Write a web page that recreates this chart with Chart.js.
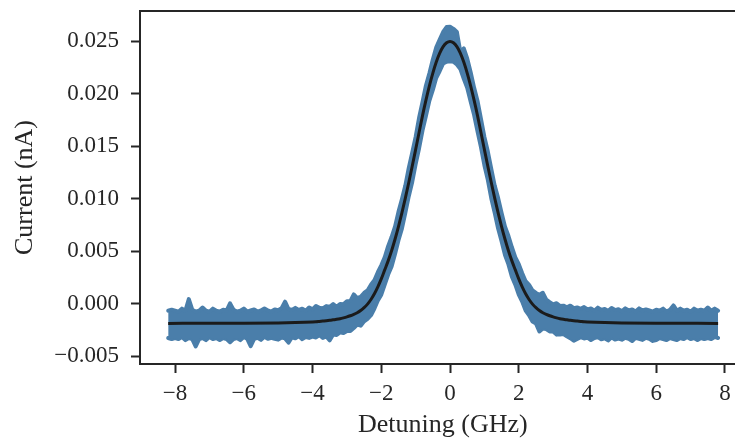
<!DOCTYPE html>
<html lang="en">
<head>
<meta charset="UTF-8">
<title>Detuning scan</title>
<script src="https://cdn.jsdelivr.net/npm/chart.js@4.4.0/dist/chart.umd.min.js"></script>
<style>
  html, body { margin: 0; padding: 0; background: #fff; overflow: hidden; width: 735px; height: 439px; }
  #scan { display: block; }
</style>
</head>
<body>
<canvas id="scan" width="800" height="439"></canvas>
<script>
// measured trace (GHz) with the upper / lower edge of its noise (nA)
var detuning = [
  -8.2,-8.1,-8.0,-7.9,-7.8,-7.7,-7.6,-7.5,-7.4,-7.3,
  -7.2,-7.1,-7.0,-6.9,-6.8,-6.7,-6.6,-6.5,-6.4,-6.3,
  -6.2,-6.1,-6.0,-5.9,-5.8,-5.7,-5.6,-5.5,-5.4,-5.3,
  -5.2,-5.1,-5.0,-4.9,-4.8,-4.7,-4.6,-4.5,-4.4,-4.3,
  -4.2,-4.1,-4.0,-3.9,-3.8,-3.7,-3.6,-3.5,-3.4,-3.3,
  -3.2,-3.1,-3.0,-2.9,-2.8,-2.7,-2.6,-2.5,-2.4,-2.3,
  -2.2,-2.1,-2.0,-1.9,-1.8,-1.7,-1.6,-1.5,-1.4,-1.3,
  -1.2,-1.1,-1.0,-0.9,-0.8,-0.7,-0.6,-0.5,-0.4,-0.3,
  -0.2,-0.1,0.0,0.1,0.2,0.3,0.4,0.5,0.6,0.7,
  0.8,0.9,1.0,1.1,1.2,1.3,1.4,1.5,1.6,1.7,
  1.8,1.9,2.0,2.1,2.2,2.3,2.4,2.5,2.6,2.7,
  2.8,2.9,3.0,3.1,3.2,3.3,3.4,3.5,3.6,3.7,
  3.8,3.9,4.0,4.1,4.2,4.3,4.4,4.5,4.6,4.7,
  4.8,4.9,5.0,5.1,5.2,5.3,5.4,5.5,5.6,5.7,
  5.8,5.9,6.0,6.1,6.2,6.3,6.4,6.5,6.6,6.7,
  6.8,6.9,7.0,7.1,7.2,7.3,7.4,7.5,7.6,7.7,7.8
];
var currentHigh = [
  -0.00067,-0.00057,-0.00067,-0.00077,-0.00047,-0.00067,0.00043,-0.00057,-0.00077,-0.00067,
  -0.00037,-0.00067,-0.00077,-0.00047,-0.00067,-0.00077,-0.00057,-0.00067,0.00003,-0.00057,
  -0.00077,-0.00067,-0.00047,-0.00075,-0.00065,-0.00055,-0.00075,-0.00065,-0.00045,-0.00065,
  -0.00075,-0.00055,-0.00063,-0.00042,0.00019,-0.00051,-0.00060,-0.00040,-0.00059,-0.00048,
  -0.00068,-0.00036,-0.00054,-0.00022,-0.00039,-0.00046,-0.00023,-0.00029,-0.00004,-0.00029,
  -0.00003,-0.00005,0.00024,0.00025,0.00088,0.00054,0.00065,0.00102,0.00126,0.00180,
  0.00224,0.00300,0.00366,0.00442,0.00548,0.00635,0.00734,0.00875,0.00996,0.01126,
  0.01295,0.01440,0.01590,0.01772,0.01923,0.02080,0.02196,0.02328,0.02443,0.02518,
  0.02590,0.02637,0.02640,0.02620,0.02590,0.02400,0.02433,0.02338,0.02206,0.02060,
  0.01933,0.01762,0.01590,0.01450,0.01285,0.01126,0.01006,0.00865,0.00734,0.00645,
  0.00538,0.00442,0.00376,0.00290,0.00214,0.00180,0.00126,0.00102,0.00085,0.00104,
  0.00038,0.00015,-0.00006,0.00005,-0.00023,-0.00019,-0.00034,-0.00019,-0.00043,-0.00036,
  -0.00049,-0.00032,-0.00054,-0.00046,-0.00067,-0.00038,-0.00059,-0.00050,-0.00070,-0.00041,
  -0.00061,-0.00052,-0.00072,-0.00045,-0.00065,-0.00055,-0.00075,-0.00045,-0.00065,-0.00055,
  -0.00065,-0.00075,-0.00057,-0.00067,-0.00047,-0.00077,-0.00057,-0.00017,-0.00067,-0.00047,
  -0.00067,-0.00057,-0.00077,-0.00047,-0.00067,-0.00057,-0.00067,-0.00037,-0.00067,-0.00047,-0.00067
];
var currentLow = [
  -0.00327,-0.00337,-0.00327,-0.00337,-0.00317,-0.00347,-0.00327,-0.00337,-0.00407,-0.00337,
  -0.00327,-0.00347,-0.00317,-0.00337,-0.00327,-0.00347,-0.00327,-0.00337,-0.00367,-0.00337,
  -0.00327,-0.00347,-0.00317,-0.00335,-0.00405,-0.00335,-0.00325,-0.00345,-0.00315,-0.00335,
  -0.00325,-0.00335,-0.00343,-0.00322,-0.00331,-0.00371,-0.00320,-0.00330,-0.00309,-0.00338,
  -0.00318,-0.00326,-0.00314,-0.00322,-0.00299,-0.00326,-0.00313,-0.00349,-0.00294,-0.00299,
  -0.00273,-0.00280,-0.00260,-0.00260,-0.00232,-0.00200,-0.00210,-0.00168,-0.00144,-0.00110,
  -0.00046,0.00030,0.00086,0.00182,0.00278,0.00355,0.00474,0.00605,0.00716,0.00866,
  0.01025,0.01160,0.01330,0.01482,0.01653,0.01790,0.01936,0.02038,0.02153,0.02218,
  0.02290,0.02307,0.02310,0.02307,0.02280,0.02238,0.02143,0.02058,0.01926,0.01800,
  0.01643,0.01492,0.01320,0.01180,0.01005,0.00866,0.00716,0.00595,0.00464,0.00375,
  0.00258,0.00182,0.00086,0.00020,-0.00066,-0.00110,-0.00170,-0.00188,-0.00265,-0.00236,
  -0.00242,-0.00265,-0.00266,-0.00295,-0.00293,-0.00289,-0.00310,-0.00329,-0.00353,-0.00336,
  -0.00319,-0.00332,-0.00324,-0.00346,-0.00328,-0.00318,-0.00339,-0.00330,-0.00350,-0.00321,
  -0.00341,-0.00332,-0.00343,-0.00325,-0.00335,-0.00355,-0.00325,-0.00335,-0.00345,-0.00325,
  -0.00335,-0.00355,-0.00347,-0.00327,-0.00337,-0.00347,-0.00327,-0.00337,-0.00347,-0.00327,
  -0.00337,-0.00317,-0.00337,-0.00327,-0.00347,-0.00327,-0.00337,-0.00327,-0.00337,-0.00317,-0.00327
];

// fitted line shape
var fitX = [
  -8.2,-7,-6,-5,-4.5,
  -4.0,-3.9,-3.8,-3.7,-3.6,-3.5,-3.4,-3.3,-3.2,-3.1,
  -3.0,-2.9,-2.8,-2.7,-2.6,-2.5,-2.4,-2.3,-2.2,-2.1,
  -2.0,-1.9,-1.8,-1.7,-1.6,-1.5,-1.4,-1.3,-1.2,-1.1,
  -1.0,-0.9,-0.8,-0.7,-0.6,-0.5,-0.4,-0.3,-0.2,-0.1,
  0.0,
  0.1,0.2,0.3,0.4,0.5,0.6,0.7,0.8,0.9,1.0,
  1.1,1.2,1.3,1.4,1.5,1.6,1.7,1.8,1.9,2.0,
  2.1,2.2,2.3,2.4,2.5,2.6,2.7,2.8,2.9,3.0,
  3.1,3.2,3.3,3.4,3.5,3.6,3.7,3.8,3.9,4.0,
  4.5,5,6,7,7.8
];
var fitY = [
  -0.00188,-0.00187,-0.00186,-0.00183,-0.00180,
  -0.00174,-0.00172,-0.00169,-0.00166,-0.00163,-0.00159,-0.00154,-0.00149,-0.00143,-0.00135,
  -0.00126,-0.00115,-0.00102,-0.00086,-0.00065,-0.00038,-0.00004,0.00040,0.00094,0.00160,
  0.00236,0.00322,0.00408,0.00505,0.00614,0.00735,0.00866,0.01006,0.01155,0.01310,
  0.01470,0.01632,0.01793,0.01940,0.02076,0.02198,0.02303,0.02388,0.02450,0.02487,
  0.02500,
  0.02487,0.02450,0.02388,0.02303,0.02198,0.02076,0.01940,0.01793,0.01632,0.01470,
  0.01310,0.01155,0.01006,0.00866,0.00735,0.00614,0.00505,0.00408,0.00322,0.00236,
  0.00160,0.00094,0.00040,-0.00004,-0.00038,-0.00065,-0.00086,-0.00102,-0.00115,-0.00126,
  -0.00135,-0.00143,-0.00149,-0.00154,-0.00159,-0.00163,-0.00166,-0.00169,-0.00172,-0.00174,
  -0.00180,-0.00183,-0.00186,-0.00187,-0.00188
];

var xTicks = [-8, -6, -4, -2, 0, 2, 4, 6, 8];
var yTicks = [-0.005, 0.000, 0.005, 0.010, 0.015, 0.020, 0.025];

var ink = '#262626';
var blue = '#4a7eaa';
var tickFont = { family: 'Liberation Serif', size: 23 };
var labelFont = { family: 'Liberation Serif', size: 26, lineHeight: 1 };

function pairs(xs, ys) {
  return xs.map(function (x, i) { return { x: x, y: ys[i] }; });
}
function minus(s) { return s.replace('-', '\u2212'); }

// top spine of the axes box (the right one falls outside the window)
var topSpine = {
  id: 'topSpine',
  afterDraw: function (chart) {
    var a = chart.chartArea, ctx = chart.ctx;
    ctx.save();
    ctx.strokeStyle = ink;
    ctx.lineWidth = 2;
    ctx.beginPath();
    ctx.moveTo(a.left - 1, a.top);
    ctx.lineTo(a.right + 1, a.top);
    ctx.stroke();
    ctx.restore();
  }
};

var xMin = -9.02, xMax = 8.6, yMin = -0.00575, yMax = 0.0279;

new Chart(document.getElementById('scan'), {
  type: 'line',
  data: {
    datasets: [
      {
        data: pairs(fitX, fitY),
        borderColor: '#1b1b1b',
        borderWidth: 3,
        pointRadius: 0,
        cubicInterpolationMode: 'monotone',
        fill: false,
        order: 0
      },
      {
        data: pairs(detuning, currentHigh),
        borderColor: blue,
        backgroundColor: blue,
        borderWidth: 4,
        borderJoinStyle: 'round',
        borderCapStyle: 'round',
        pointRadius: 0,
        tension: 0,
        fill: '+1',
        order: 1
      },
      {
        data: pairs(detuning, currentLow),
        borderColor: blue,
        borderWidth: 4,
        borderJoinStyle: 'round',
        borderCapStyle: 'round',
        pointRadius: 0,
        tension: 0,
        fill: false,
        order: 2
      }
    ]
  },
  options: {
    responsive: false,
    animation: false,
    devicePixelRatio: 1,
    layout: { padding: { left: 0, top: 11, right: 54.4, bottom: 0 } },
    plugins: { legend: { display: false }, tooltip: { enabled: false } },
    scales: {
      x: {
        type: 'linear', position: 'bottom', min: xMin, max: xMax,
        afterFit: function (s) { s.height = 75; s.paddingLeft = 0; s.paddingRight = 0; },
        afterBuildTicks: function (s) { s.ticks = xTicks.map(function (v) { return { value: v }; }); },
        ticks: {
          font: tickFont, color: ink, padding: 7, maxRotation: 0, autoSkip: false,
          callback: function (v) { return minus(String(v)); }
        },
        grid: { drawOnChartArea: false, drawTicks: true, tickLength: 9, tickWidth: 2, tickColor: ink },
        border: { display: true, color: ink, width: 2 },
        title: { display: true, text: 'Detuning (GHz)', font: labelFont, color: ink, padding: { top: 0, bottom: 1 } }
      },
      y: {
        type: 'linear', position: 'left', min: yMin, max: yMax,
        afterFit: function (s) { s.width = 140; s.paddingTop = 0; s.paddingBottom = 0; },
        afterBuildTicks: function (s) { s.ticks = yTicks.map(function (v) { return { value: v }; }); },
        ticks: {
          font: tickFont, color: ink, padding: 12, autoSkip: false,
          callback: function (v) { return minus((Math.abs(v) < 1e-9 ? 0 : v).toFixed(3)); }
        },
        grid: { drawOnChartArea: false, drawTicks: true, tickLength: 9, tickWidth: 2, tickColor: ink },
        border: { display: true, color: ink, width: 2 },
        title: { display: true, text: 'Current (nA)', font: labelFont, color: ink, padding: { top: 12, bottom: 0 } }
      }
    }
  },
  plugins: [topSpine]
});
</script>
</body>
</html>
